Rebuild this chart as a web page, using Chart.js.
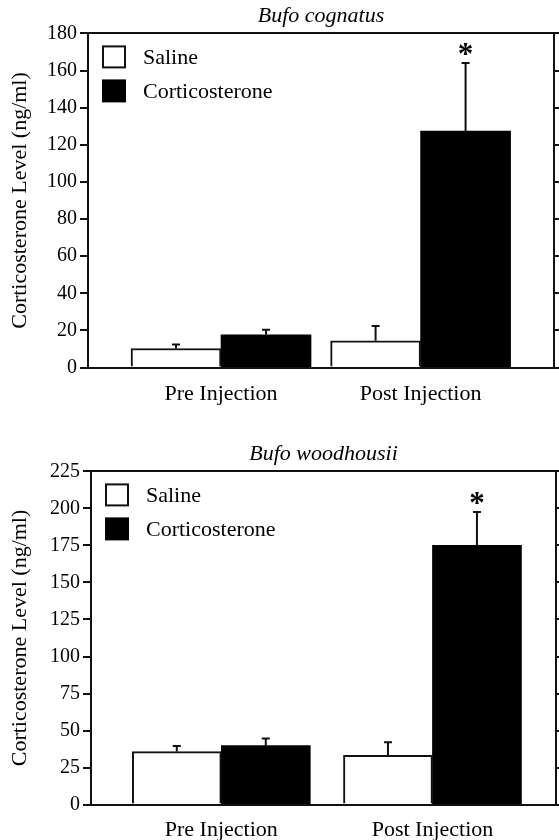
<!DOCTYPE html>
<html>
<head>
<meta charset="utf-8">
<script src="https://cdn.jsdelivr.net/npm/chart.js@4.4.0/dist/chart.umd.min.js"></script>
<style>
  html, body { margin: 0; padding: 0; background: #fff; overflow: hidden; }
  .panel { position: absolute; left: 0; width: 559px; }
  #top-panel { top: 0; height: 424px; }
  #bottom-panel { top: 438px; height: 417px; }
</style>
</head>
<body>
<div class="panel" id="top-panel"><canvas id="cognatus-chart"></canvas></div>
<div class="panel" id="bottom-panel"><canvas id="woodhousii-chart"></canvas></div>
<script>
const CATEGORIES = ['Pre Injection', 'Post Injection'];
const SERIES_NAMES = ['Saline', 'Corticosterone'];

// Bufo cognatus, ng/ml (mean and upper error)
const COGNATUS_SALINE = [10.3, 14.4];
const COGNATUS_SALINE_ERR = [2.1, 8.0];
const COGNATUS_CORT = [17.7, 127.4];
const COGNATUS_CORT_ERR = [2.7, 36.6];
const COGNATUS_SIG = [false, true];
const COGNATUS_Y_TICKS = [0, 20, 40, 60, 80, 100, 120, 140, 160, 180];

// Bufo woodhousii, ng/ml
const WOODHOUSII_SALINE = [35.8, 33.3];
const WOODHOUSII_SALINE_ERR = [3.8, 8.8];
const WOODHOUSII_CORT = [39.8, 175.1];
const WOODHOUSII_CORT_ERR = [4.8, 22.4];
const WOODHOUSII_SIG = [false, true];
const WOODHOUSII_Y_TICKS = [0, 25, 50, 75, 100, 125, 150, 175, 200, 225];

const SERIF = "'Liberation Serif', 'Times New Roman', serif";
const INK = '#111';

Chart.defaults.font.family = SERIF;
Chart.defaults.color = '#000';

// one-sided error bars plus the significance star
const errorBarPlugin = {
  id: 'errorBars',
  afterDatasetsDraw(chart) {
    const ctx = chart.ctx;
    const yScale = chart.scales.y;
    ctx.save();
    ctx.strokeStyle = INK;
    ctx.fillStyle = '#000';
    ctx.lineWidth = 2;
    chart.data.datasets.forEach((ds, d) => {
      const meta = chart.getDatasetMeta(d);
      meta.data.forEach((bar, i) => {
        const top = yScale.getPixelForValue(ds.data[i].y + ds.errors[i]);
        ctx.beginPath();
        ctx.moveTo(bar.x, bar.y);
        ctx.lineTo(bar.x, top);
        ctx.moveTo(bar.x - 4, top);
        ctx.lineTo(bar.x + 4, top);
        ctx.stroke();
        if (ds.significant && ds.significant[i]) {
          ctx.font = 'bold 31px ' + SERIF;
          ctx.textAlign = 'center';
          ctx.textBaseline = 'alphabetic';
          ctx.fillText('*', bar.x, top + 1);
        }
      });
    });
    ctx.restore();
  }
};

// legend boxes in the top-left corner of the plot
const cornerLegendPlugin = {
  id: 'cornerLegend',
  afterDraw(chart) {
    const { ctx, chartArea } = chart;
    ctx.save();
    ctx.font = '22px ' + SERIF;
    ctx.textAlign = 'left';
    ctx.textBaseline = 'middle';
    chart.data.datasets.forEach((ds, d) => {
      const x = chartArea.left + 14;
      const y = chartArea.top + 12 + d * 34;
      ctx.fillStyle = ds.backgroundColor;
      ctx.fillRect(x, y, 24, 23);
      if (ds.borderWidth) {
        ctx.strokeStyle = ds.borderColor;
        ctx.lineWidth = ds.borderWidth;
        ctx.strokeRect(x + 1, y + 1, 22, 21);
      }
      ctx.fillStyle = '#000';
      ctx.fillText(ds.label, x + 41, y + 13);
    });
    ctx.restore();
  }
};

function toPoints(values) {
  return values.map((v, i) => ({ x: i + 1, y: v }));
}

function buildChart(canvasId, cfg) {
  const ctx = document.getElementById(canvasId).getContext('2d');
  const yMin = cfg.yTicks[0];
  const yMax = cfg.yTicks[cfg.yTicks.length - 1];
  const yStep = cfg.yTicks[1] - cfg.yTicks[0];

  return new Chart(ctx, {
    type: 'bar',
    data: {
      datasets: [{
        label: SERIES_NAMES[0],
        data: toPoints(cfg.saline),
        errors: cfg.salineErr,
        backgroundColor: '#ffffff',
        borderColor: INK,
        borderWidth: 2,
        barThickness: cfg.barWidth
      }, {
        label: SERIES_NAMES[1],
        data: toPoints(cfg.cort),
        errors: cfg.cortErr,
        significant: cfg.sig,
        backgroundColor: '#000000',
        borderColor: '#000000',
        borderWidth: 0,
        barThickness: cfg.barWidth
      }]
    },
    options: {
      responsive: true,
      maintainAspectRatio: false,
      animation: false,
      devicePixelRatio: 1,
      layout: { padding: { top: 1, left: 0, right: 0, bottom: cfg.padBottom } },
      plugins: {
        tooltip: { enabled: false },
        legend: { display: false }
      },
      scales: {
        x: {
          type: 'linear',
          position: 'bottom',
          offset: false,
          min: cfg.xMin,
          max: cfg.xMax,
          afterBuildTicks: (scale) => {
            scale.ticks = CATEGORIES.map((c, i) => ({ value: i + 1 }));
          },
          ticks: {
            callback: (v) => CATEGORIES[v - 1] || '',
            padding: cfg.labelPad,
            autoSkip: false,
            maxRotation: 0,
            color: '#000',
            font: { family: SERIF, size: 22 }
          },
          grid: { display: false, drawTicks: false, offset: false },
          border: { display: true, color: INK, width: 2 }
        },
        x2: {
          type: 'linear',
          position: 'top',
          offset: false,
          min: cfg.xMin,
          max: cfg.xMax,
          ticks: { display: false },
          grid: { display: false, drawTicks: false },
          border: { display: true, color: INK, width: 2 },
          title: {
            display: true,
            text: cfg.title,
            color: '#000',
            padding: { top: 2, bottom: 4 },
            font: { family: SERIF, size: 22, style: 'italic' }
          }
        },
        y: {
          position: 'left',
          min: yMin,
          max: yMax,
          afterFit: (scale) => { scale.width = cfg.leftWidth; },
          ticks: {
            stepSize: yStep,
            padding: 3,
            color: '#000',
            font: { family: SERIF, size: 20 }
          },
          grid: { drawOnChartArea: false, drawTicks: true, tickLength: 8, color: INK, lineWidth: 2 },
          border: { display: true, color: INK, width: 2 },
          title: {
            display: true,
            text: 'Corticosterone Level (ng/ml)',
            color: '#000',
            padding: { top: 7, bottom: 0 },
            font: { family: SERIF, size: 22 }
          }
        },
        y2: {
          position: 'right',
          min: yMin,
          max: yMax,
          ticks: { display: false, stepSize: yStep },
          grid: { drawOnChartArea: false, drawTicks: true, tickLength: cfg.rightTick, color: INK, lineWidth: 2 },
          border: { display: true, color: INK, width: 2 }
        }
      }
    },
    plugins: [errorBarPlugin, cornerLegendPlugin]
  });
}

buildChart('cognatus-chart', {
  title: 'Bufo cognatus',
  saline: COGNATUS_SALINE,
  salineErr: COGNATUS_SALINE_ERR,
  cort: COGNATUS_CORT,
  cortErr: COGNATUS_CORT_ERR,
  sig: COGNATUS_SIG,
  yTicks: COGNATUS_Y_TICKS,
  xMin: 0.3335,
  xMax: 2.6685,
  barWidth: 90,
  leftWidth: 88,
  rightTick: 5,
  labelPad: 13,
  padBottom: 4
});

buildChart('woodhousii-chart', {
  title: 'Bufo woodhousii',
  saline: WOODHOUSII_SALINE,
  salineErr: WOODHOUSII_SALINE_ERR,
  cort: WOODHOUSII_CORT,
  cortErr: WOODHOUSII_CORT_ERR,
  sig: WOODHOUSII_SIG,
  yTicks: WOODHOUSII_Y_TICKS,
  xMin: 0.383,
  xMax: 2.585,
  barWidth: 89,
  leftWidth: 91,
  rightTick: 3,
  labelPad: 12,
  padBottom: 0
});
</script>
</body>
</html>
